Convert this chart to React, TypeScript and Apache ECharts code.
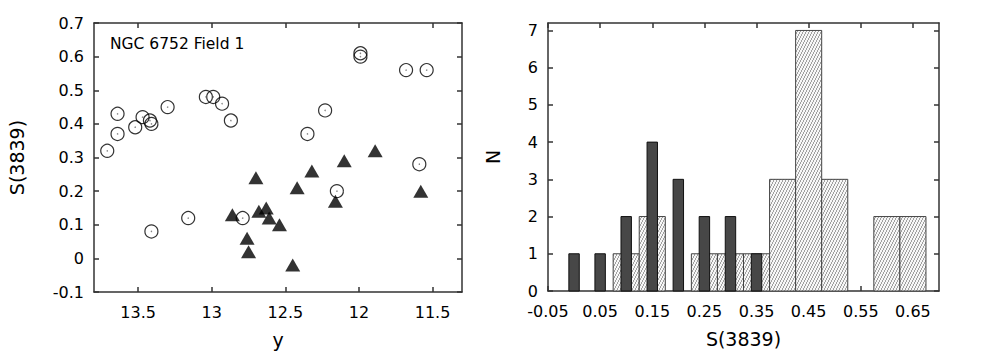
import React, { useEffect, useRef } from "react";
import * as echarts from "echarts";

// Left panel: open circles (y magnitude, S(3839))
const circleMag = [13.71, 13.64, 13.64, 13.52, 13.47, 13.42, 13.41, 13.3, 13.04, 12.99, 12.93, 12.87, 11.99, 11.99, 11.68, 11.54, 12.23, 12.35, 11.59, 13.41, 13.16, 12.79, 12.15];
const circleS = [0.32, 0.43, 0.37, 0.39, 0.42, 0.41, 0.4, 0.45, 0.48, 0.48, 0.46, 0.41, 0.61, 0.6, 0.56, 0.56, 0.44, 0.37, 0.28, 0.08, 0.12, 0.12, 0.2];
// Left panel: filled triangles
const triMag = [12.86, 12.7, 12.68, 12.63, 12.61, 12.54, 12.76, 12.75, 12.45, 12.42, 12.32, 12.1, 11.89, 12.16, 11.58];
const triS = [0.13, 0.24, 0.14, 0.15, 0.12, 0.1, 0.06, 0.02, -0.02, 0.21, 0.26, 0.29, 0.32, 0.17, 0.2];

const leftXTicks = [11.5, 12, 12.5, 13, 13.5];
const leftYTicks = [-0.1, 0, 0.1, 0.2, 0.3, 0.4, 0.5, 0.6, 0.7];

// Right panel: histograms
const darkCenters = [0.0, 0.05, 0.1, 0.15, 0.2, 0.25, 0.3, 0.35];
const darkCounts = [1, 1, 2, 4, 3, 2, 2, 1];
const darkBinWidth = 0.02;
const hatchCenters = [0.1, 0.15, 0.25, 0.3, 0.35, 0.4, 0.45, 0.5, 0.6, 0.65];
const hatchCounts = [1, 2, 1, 1, 1, 3, 7, 3, 2, 2];
const hatchBinWidth = 0.05;

const rightXTicks = [-0.05, 0.05, 0.15, 0.25, 0.35, 0.45, 0.55, 0.65];
const rightYTicks = [0, 1, 2, 3, 4, 5, 6, 7];

const FONT = "DejaVu Sans";

function makeHatch(): HTMLCanvasElement {
  const c = document.createElement("canvas");
  c.width = 3;
  c.height = 6;
  const ctx = c.getContext("2d")!;
  ctx.fillStyle = "#f6f6f6";
  ctx.fillRect(0, 0, 3, 6);
  ctx.fillStyle = "#a0a0a0";
  for (let y = 0; y < 6; y++) {
    const x = Math.floor((5 - y) / 2);
    ctx.fillRect(x, y, 1, 1);
  }
  return c;
}

export default function App() {
  const ref = useRef<HTMLDivElement>(null);
  useEffect(() => {
    document.body.style.margin = "0";
    const chart = echarts.init(ref.current!, undefined, { renderer: "svg" });
    const hatch = makeHatch();
    const lineStyle = { color: "#333", width: 1.5 };
    const labelStyle = { fontFamily: FONT, fontSize: 16, color: "#000" };
    const nameStyle = { fontFamily: FONT, fontSize: 19, color: "#000" };

    const mkX = (grid: number, min: number, max: number, ticks: number[], inverse: boolean, fmt: (v: number) => string, name: string, gap: number) => [
      {
        gridIndex: grid, type: "value", min, max, inverse, position: "bottom",
        axisLine: { show: true, onZero: false, lineStyle },
        axisTick: { show: true, inside: true, length: 5, customValues: ticks, lineStyle },
        axisLabel: { show: true, customValues: ticks, margin: 12, formatter: fmt, ...labelStyle },
        splitLine: { show: false },
        name, nameLocation: "middle", nameGap: gap, nameTextStyle: nameStyle,
      },
      {
        gridIndex: grid, type: "value", min, max, inverse, position: "top",
        axisLine: { show: true, onZero: false, lineStyle },
        axisTick: { show: true, inside: true, length: 5, customValues: ticks, lineStyle },
        axisLabel: { show: false },
        splitLine: { show: false },
      },
    ];
    const mkY = (grid: number, min: number, max: number, ticks: number[], fmt: (v: number) => string, name: string, gap: number) => [
      {
        gridIndex: grid, type: "value", min, max, position: "left",
        axisLine: { show: true, onZero: false, lineStyle },
        axisTick: { show: true, inside: true, length: 5, customValues: ticks, lineStyle },
        axisLabel: { show: true, customValues: ticks, margin: 10, formatter: fmt, ...labelStyle },
        splitLine: { show: false },
        name, nameLocation: "middle", nameGap: gap, nameTextStyle: nameStyle,
      },
      {
        gridIndex: grid, type: "value", min, max, position: "right",
        axisLine: { show: true, onZero: false, lineStyle },
        axisTick: { show: true, inside: true, length: 5, customValues: ticks, lineStyle },
        axisLabel: { show: false },
        splitLine: { show: false },
      },
    ];

    const rectItem = (w: number, fill: any, stroke: string) => (params: any, api: any) => {
      const x = api.value(0);
      const h = api.value(1);
      const p0 = api.coord([x - w / 2, h]);
      const p1 = api.coord([x + w / 2, 0]);
      return {
        type: "rect",
        shape: { x: p0[0], y: p0[1], width: p1[0] - p0[0], height: p1[1] - p0[1] },
        style: { fill, stroke, lineWidth: 1 },
      };
    };

    chart.setOption({
      animation: false,
      grid: [
        { left: 94, top: 23, width: 368, height: 269, outerBoundsMode: "none" },
        { left: 548, top: 23, width: 391, height: 268, outerBoundsMode: "none" },
      ],
      xAxis: [
        ...mkX(0, 11.3, 13.8, leftXTicks, true, (v: number) => String(Math.round(v * 10) / 10), "y", 38),
        ...mkX(1, -0.05, 0.7, rightXTicks, false, (v: number) => v.toFixed(2), "S(3839)", 38),
      ],
      yAxis: [
        ...mkY(0, -0.1, 0.7, leftYTicks, (v: number) => String(Math.round(v * 10) / 10), "S(3839)", 68),
        ...mkY(1, 0, 7.2, rightYTicks, (v: number) => String(Math.round(v)), "N", 46),
      ],
      graphic: [
        {
          type: "text",
          x: 110,
          y: 44,
          style: { text: "NGC 6752 Field 1", font: `15.5px "${FONT}"`, fill: "#000", verticalAlign: "middle" },
        },
      ],
      series: [
        {
          type: "custom", xAxisIndex: 2, yAxisIndex: 2,
          data: hatchCenters.map((c, i) => [c, hatchCounts[i]]),
          renderItem: rectItem(hatchBinWidth, { image: hatch, repeat: "repeat" }, "#444"),
        },
        {
          type: "custom", xAxisIndex: 2, yAxisIndex: 2,
          data: darkCenters.map((c, i) => [c, darkCounts[i]]),
          renderItem: rectItem(darkBinWidth, "#474747", "#111"),
        },
        {
          type: "scatter", xAxisIndex: 0, yAxisIndex: 0,
          data: circleMag.map((m, i) => [m, circleS[i]]),
          symbol: "circle", symbolSize: 13,
          itemStyle: { color: "rgba(0,0,0,0)", borderColor: "#000", borderWidth: 1.2 },
        },
        {
          type: "scatter", xAxisIndex: 0, yAxisIndex: 0,
          data: circleMag.map((m, i) => [m, circleS[i]]),
          symbol: "circle", symbolSize: 1.5,
          itemStyle: { color: "#666" },
        },
        {
          type: "scatter", xAxisIndex: 0, yAxisIndex: 0,
          data: triMag.map((m, i) => [m, triS[i]]),
          symbol: "triangle", symbolSize: [15, 13],
          itemStyle: { color: "#000" },
        },
      ],
    });
    return () => chart.dispose();
  }, []);
  return <div ref={ref} style={{ width: 1002, height: 352 }} />;
}
